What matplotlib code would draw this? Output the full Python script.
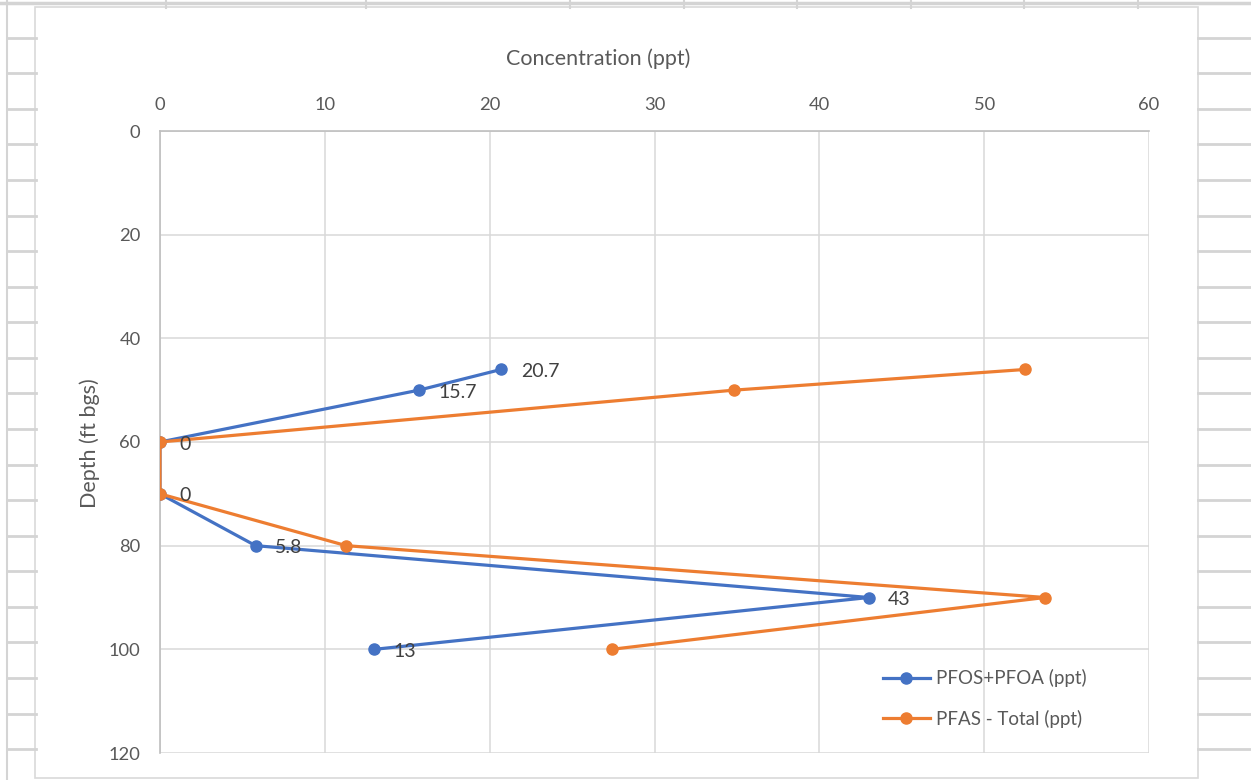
import matplotlib.pyplot as plt
from matplotlib.patches import Rectangle

plt.rcParams['font.family'] = ['Lato', 'DejaVu Sans']

depth = [46, 50, 60, 70, 80, 90, 100]
pfos_pfoa = [20.7, 15.7, 0, 0, 5.8, 43, 13]
pfas_total = [52.5, 34.8, 0, 0, 11.3, 53.7, 27.4]
pfos_labels = ['20.7', '15.7', '0', '0', '5.8', '43', '13']

x_ticks = [0, 10, 20, 30, 40, 50, 60]
y_ticks = [0, 20, 40, 60, 80, 100, 120]

blue = '#4472C4'
orange = '#ED7D31'
text_col = '#595959'
W, H = 1251, 780

fig = plt.figure(figsize=(W / 100, H / 100), dpi=100)

# spreadsheet cells behind the chart, in pixel units
bg = fig.add_axes([0, 0, 1, 1])
bg.set_xlim(0, W)
bg.set_ylim(H, 0)
bg.axis('off')
cell = '#D4D4D4'
bg.plot([0, W], [2.5, 2.5], color=cell, lw=2.5)
bg.plot([7, 7], [0, H], color=cell, lw=1.5)
for cx in [166, 366, 570, 684, 797, 911, 1024, 1138]:
    bg.plot([cx, cx], [0, 8], color=cell, lw=1.5)
for k in range(21):
    cy = 37.7 + 35.57 * k
    bg.plot([7, 36], [cy, cy], color=cell, lw=2)
    bg.plot([1198, W], [cy, cy], color=cell, lw=2)
bg.add_patch(Rectangle((35, 6.5), 1163, 771.5, facecolor='white',
                       edgecolor='#D9D9D9', lw=1.2))

# plot area
ax = fig.add_axes([160 / W, 1 - 753 / H, (1149 - 160) / W, (753 - 131) / H])
ax.plot(pfos_pfoa, depth, color=blue, lw=2.3, marker='o', markersize=8,
        label='PFOS+PFOA (ppt)', zorder=3)
ax.plot(pfas_total, depth, color=orange, lw=2.3, marker='o', markersize=8,
        label='PFAS - Total (ppt)', zorder=4)
for xv, yv, lab in zip(pfos_pfoa, depth, pfos_labels):
    ax.annotate(lab, (xv, yv), xytext=(14, -1.5), textcoords='offset points',
                ha='left', va='center', fontsize=14, color='#404040', zorder=5)

ax.set_xlim(0, 60)
ax.set_ylim(120, 0)
ax.set_xticks(x_ticks)
ax.set_yticks(y_ticks)
ax.xaxis.tick_top()
ax.tick_params(axis='both', length=0, labelsize=13.2, labelcolor=text_col)
ax.tick_params(axis='x', pad=13)
ax.tick_params(axis='y', pad=14)
ax.grid(True, color='#D9D9D9', lw=1.1)
ax.set_axisbelow(True)
for side in ['bottom', 'right']:
    ax.spines[side].set_visible(False)
for side in ['left', 'top']:
    ax.spines[side].set_color('#BFBFBF')
    ax.spines[side].set_linewidth(1.2)

fig.text(598 / W, 1 - 59 / H, 'Concentration (ppt)', ha='center', va='center',
         fontsize=15.5, color=text_col)
fig.text(90 / W, 1 - 443 / H, 'Depth (ft bgs)', ha='center', va='center',
         rotation=90, fontsize=15.5, color=text_col)

ax.legend(loc='upper left', bbox_to_anchor=(883 / W, 1 - 669 / H),
          bbox_transform=fig.transFigure, frameon=False, fontsize=13.5,
          labelcolor=text_col, handlelength=2.5, handletextpad=0.3,
          labelspacing=1.2, borderpad=0, borderaxespad=0)

fig.savefig('out.png', dpi=100)
